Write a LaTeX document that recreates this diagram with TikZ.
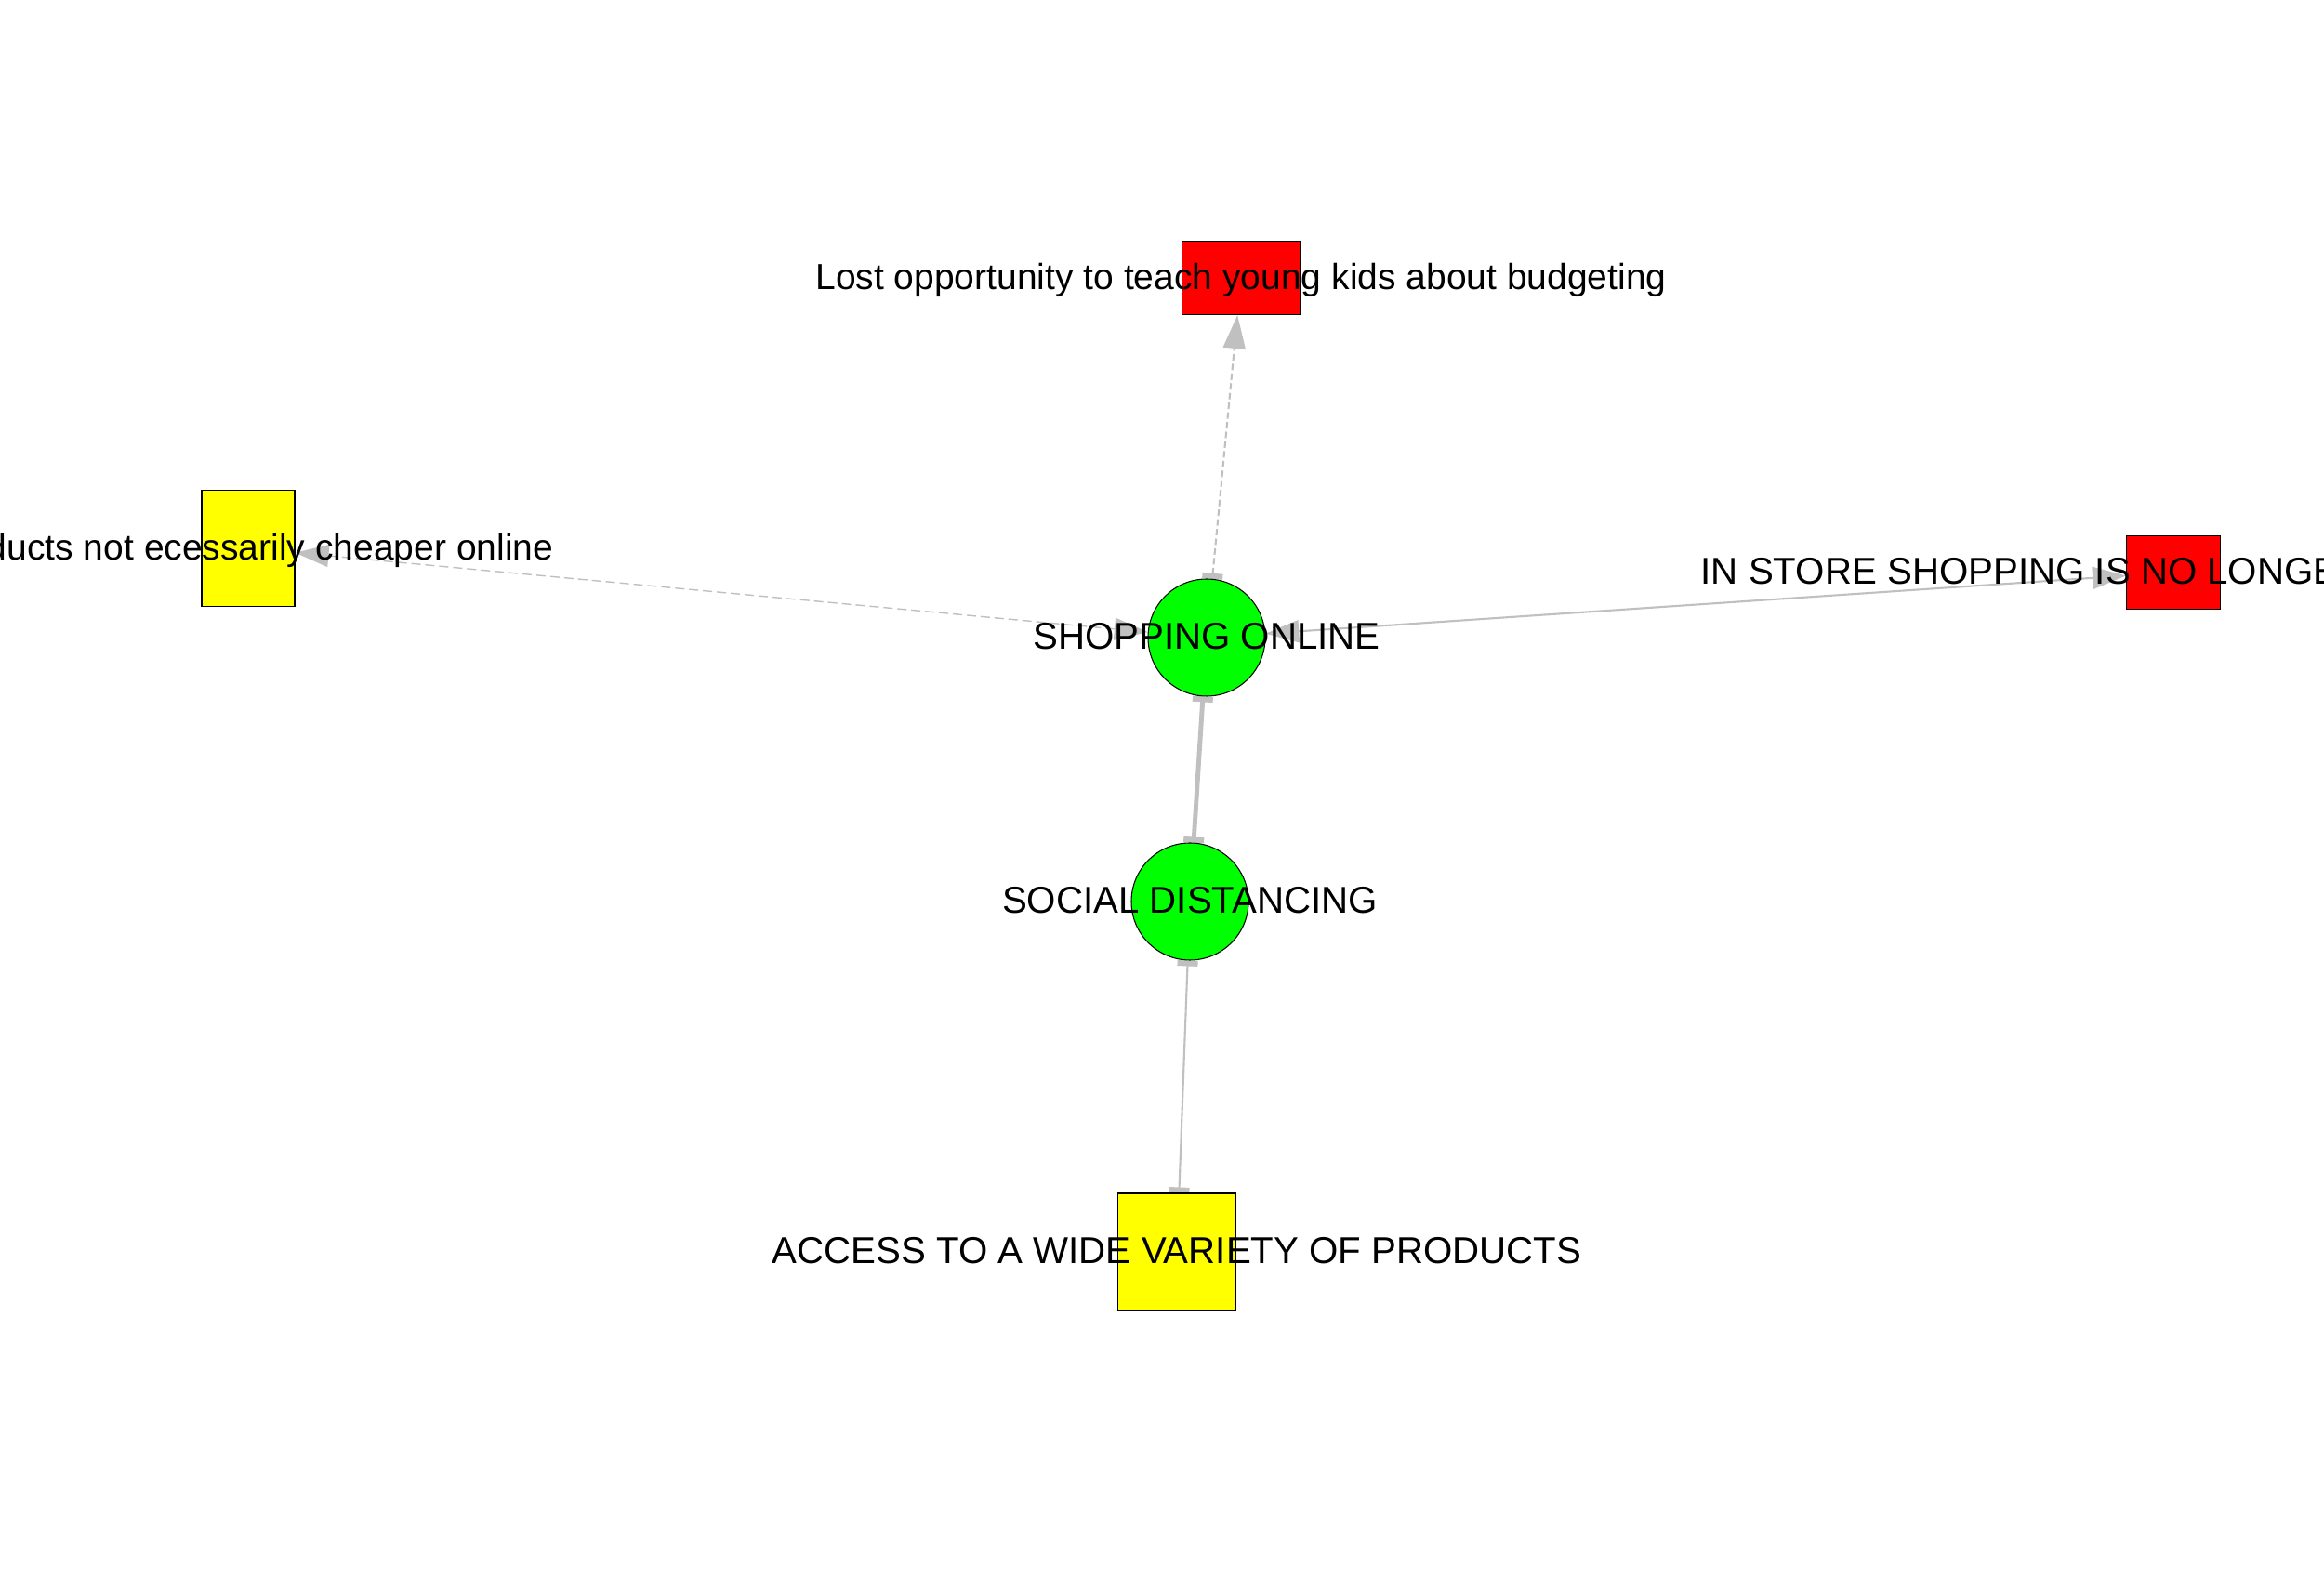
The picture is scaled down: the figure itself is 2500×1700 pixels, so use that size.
\documentclass[tikz,border=0pt]{standalone}
\usepackage{fontspec}
\setmainfont{Liberation Sans}
\usetikzlibrary{arrows.meta,backgrounds}

\definecolor{nodegreen}{RGB}{0,255,0}
\definecolor{nodered}{RGB}{255,0,0}
\definecolor{nodeyellow}{RGB}{255,255,0}
\definecolor{edgegray}{RGB}{192,192,192}

\begin{document}
\begin{tikzpicture}[x=0.1mm,y=-0.1mm,
    tag/.style={font=\fontsize{11.1}{13}\selectfont,text height=0.716em,text depth=0pt,inner sep=0pt},
    captag/.style={tag,font=\fontsize{11.45}{13}\selectfont},
    every label/.style={captag},
    hub/.style={circle,draw=black,line width=0.3pt,fill=nodegreen,minimum size=12.6mm,inner sep=0pt},
    redbox/.style={rectangle,draw=black,line width=0.3pt,fill=nodered,inner sep=0pt},
    yellowbox/.style={rectangle,draw=black,line width=0.3pt,fill=nodeyellow,inner sep=0pt},
    link/.style={draw=edgegray,line width=0.6pt},
    teetip/.tip={Rectangle[length=0.6mm,width=2.2mm]},
    deltatip/.tip={Triangle[length=3.6mm,width=2.4mm]}]

\useasboundingbox (0,0) rectangle (2500,1700);
\clip (0,0) rectangle (2500,1700);

% the two central concepts
\node[hub,label=center:SHOPPING ONLINE] (online) at (1298,686) {};
\node[hub,label=center:SOCIAL DISTANCING] (distancing) at (1280,970) {};

% outer boxes
\node[redbox,minimum width=12.7mm,minimum height=7.9mm,
    label={[tag]center:Lost opportunity to teach young kids about budgeting}] (budgeting) at (1335,299) {};
\node[yellowbox,minimum width=10mm,minimum height=12.5mm] (cheaper) at (267,590) {};
\node[redbox,minimum width=10.1mm,minimum height=7.9mm] (instore) at (2338,616) {};
\node[yellowbox,minimum width=12.7mm,minimum height=12.6mm,
    label=center:ACCESS TO A WIDE VARIETY OF PRODUCTS] (variety) at (1266,1347) {};

% labels cut by the page edge
\node[tag,anchor=east] (cheapertext) at (596,590) {ducts not ecessarily cheaper online};
\node[captag,anchor=west] (instoretext) at (1829,616) {IN STORE SHOPPING IS NO LONGE};

% links under the nodes
\begin{scope}[on background layer]
\draw[link,dash pattern=on 0.7mm off 0.35mm,{teetip}-{deltatip}] (online) -- (budgeting);
\draw[link,line width=0.4pt,dash pattern=on 1mm off 0.5mm,{deltatip}-{deltatip}] (online) -- (cheaper);
\draw[link,{deltatip}-{deltatip}] (online) -- (instore);
\draw[link,line width=1.4pt,{teetip}-{teetip}] (online) -- (distancing);
\draw[link,{teetip}-{teetip}] (distancing) -- (variety);
\end{scope}

\end{tikzpicture}
\end{document}
